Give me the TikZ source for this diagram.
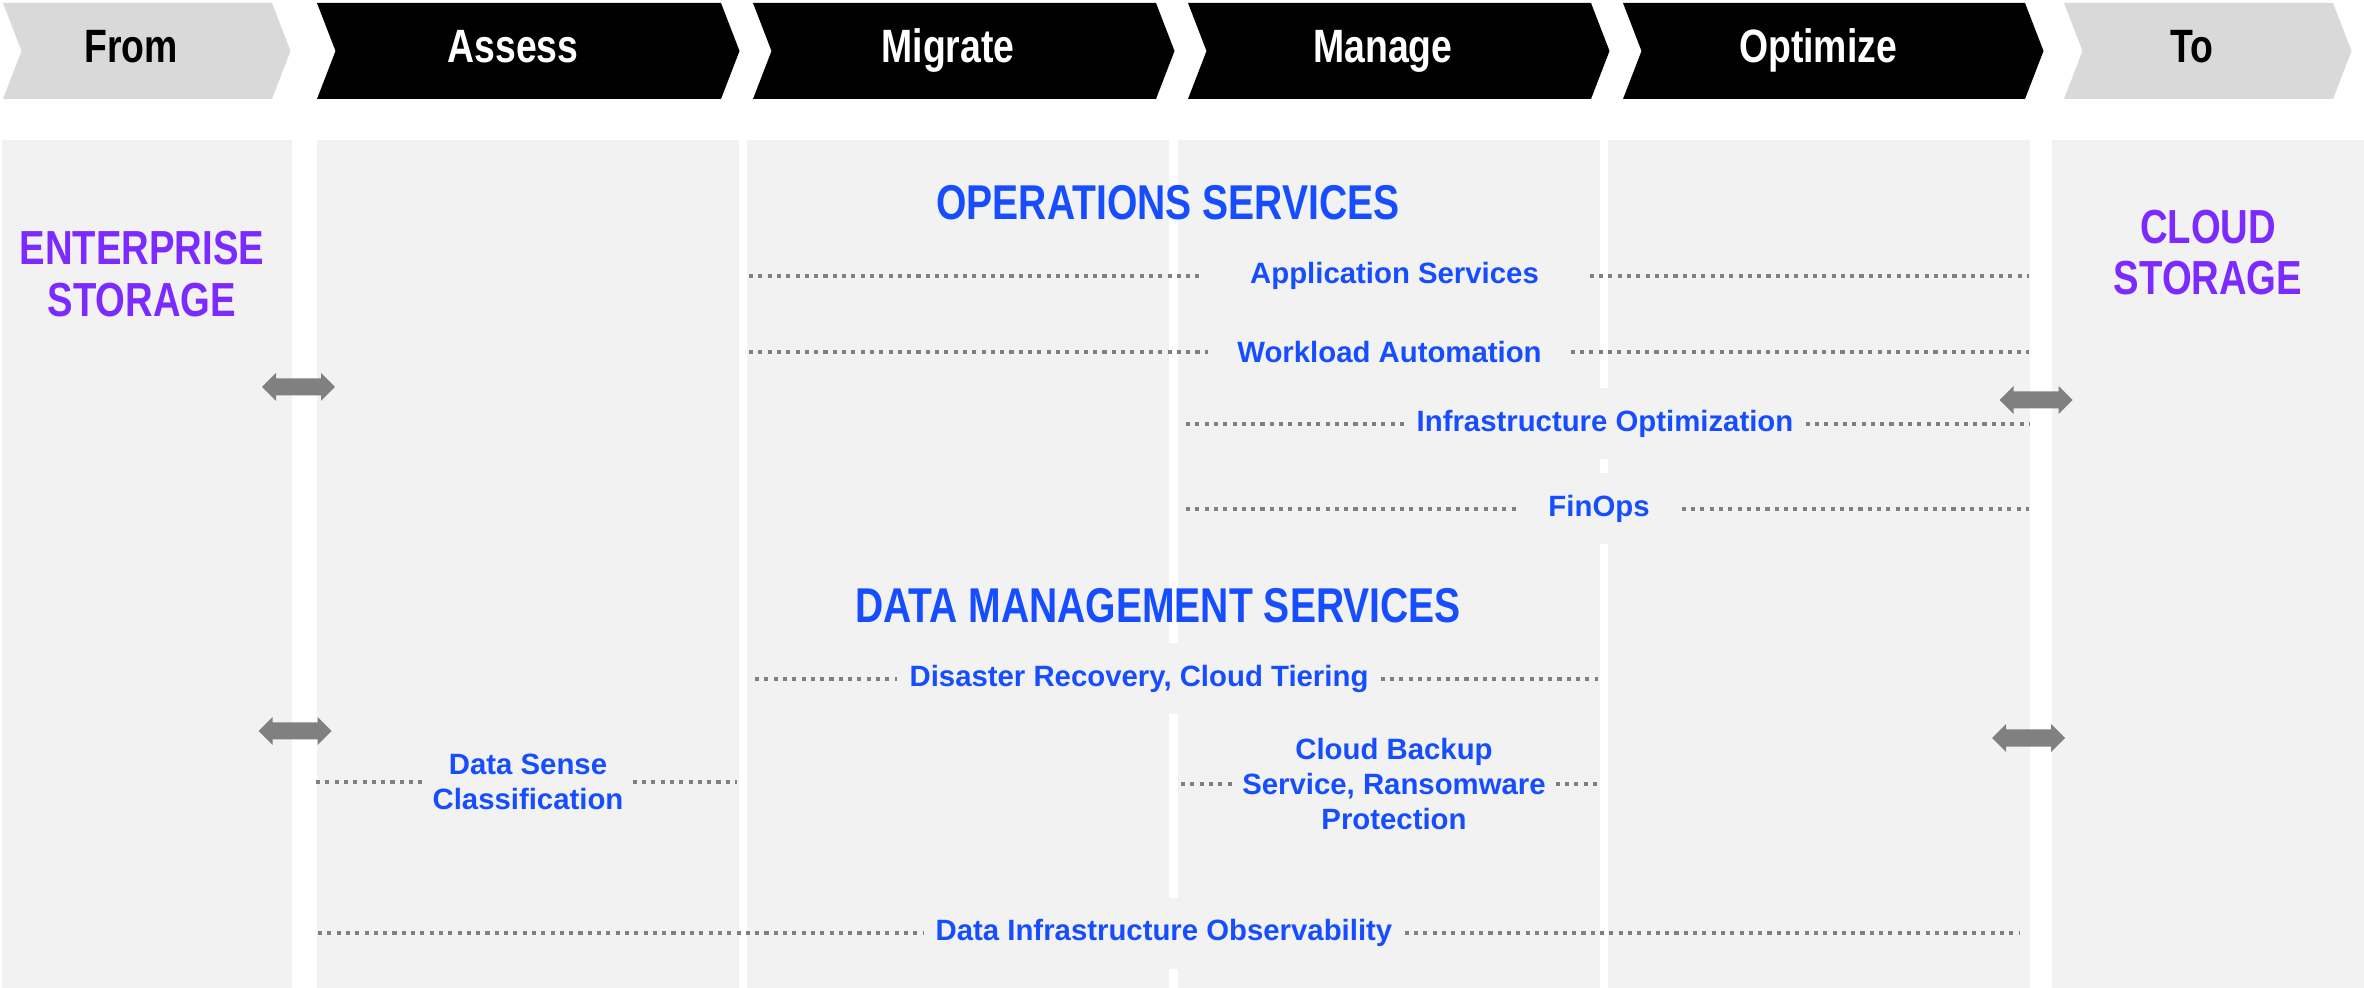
\documentclass[tikz,border=0pt]{standalone}
\usepackage{fontspec}
\setmainfont{Liberation Sans}
\newfontfamily\condfont[FakeStretch=0.8]{Liberation Sans}

\definecolor{panelgray}{HTML}{F2F2F2}
\definecolor{chevgray}{HTML}{D9D9D9}
\definecolor{arrowgray}{HTML}{808080}
\definecolor{svcblue}{RGB}{22,77,255}
\definecolor{storepurple}{RGB}{124,42,255}

\tikzset{
  svc/.style={fill=panelgray, text=svcblue, inner sep=0pt, minimum height=0.71cm,
    align=center, font=\bfseries\fontsize{8.35}{10}\selectfont},
  sechead/.style={text=svcblue, inner sep=0pt, font=\condfont\bfseries\fontsize{13.9}{16}\selectfont},
  store/.style={text=storepurple, inner sep=0pt, align=center,
    font=\condfont\bfseries\fontsize{13.6}{14.6}\selectfont},
  phase/.style={inner sep=0pt, anchor=base, font=\condfont\bfseries\fontsize{13.3}{16}\selectfont},
  dotline/.style={arrowgray, line width=0.045cm, dash pattern=on 0.041cm off 0.052cm},
}

\begin{document}
\begin{tikzpicture}
  % Canvas
  \fill[white] (0,0) rectangle (23.64,-9.88);
  \useasboundingbox (0,0) rectangle (23.64,-9.88);

  % Column panels
  \foreach \l/\r in {0.02/2.92, 3.17/7.39, 7.47/11.69, 11.78/16.00, 16.08/20.30, 20.52/23.64} {
    \fill[panelgray] (\l,-1.40) rectangle (\r,-9.88);
  }

  % Phase chevrons
  \foreach \name/\l/\r/\lx/\fc/\tc/\txt in {
      from/0.03/2.72/1.31/chevgray/black/From,
      assess/3.17/7.21/5.13/black/white/Assess,
      migrate/7.53/11.56/9.48/black/white/Migrate,
      manage/11.88/15.91/13.83/black/white/Manage,
      optimize/16.23/20.25/18.18/black/white/Optimize,
      to/20.64/23.33/21.92/chevgray/black/To
  } {
    \fill[\fc] (\l,-0.03) -- (\r,-0.03) -- (\r+0.185,-0.51) -- (\r,-0.99)
      -- (\l,-0.99) -- (\l+0.185,-0.51) -- cycle;
    \node[phase, text=\tc] (\name) at (\lx,-0.63) {\txt};
  }

  % Storage ends
  \node[store] (source) at (1.42,-2.74) {ENTERPRISE\\STORAGE};
  \node[store] (target) at (22.08,-2.525) {CLOUD\\STORAGE};

  % Section headings
  \node[sechead] (ops) at (11.68,-2.025) {OPERATIONS SERVICES};
  \node[sechead] (dms) at (11.58,-6.06) {DATA MANAGEMENT SERVICES};

  % Operations services
  \node[svc, minimum width=3.89cm] (app) at (13.945,-2.76) {Application Services};
  \node[svc, minimum width=3.61cm] (work) at (13.895,-3.52) {Workload Automation};
  \node[svc, minimum width=4.00cm] (infra) at (16.05,-4.24) {Infrastructure Optimization};
  \node[svc, minimum width=1.64cm] (fin) at (15.99,-5.09) {FinOps};

  % Data management services
  \node[svc, minimum width=4.82cm] (dr) at (11.39,-6.79) {Disaster Recovery, Cloud Tiering};
  \node[svc, minimum width=2.08cm] (sense) at (5.28,-7.82) {Data Sense\\Classification};
  \node[svc, minimum width=3.22cm] (backup) at (13.94,-7.84) {Cloud Backup\\Service, Ransomware\\Protection};
  \node[svc, minimum width=4.80cm] (obs) at (11.64,-9.33) {Data Infrastructure Observability};

  % Dotted spans
  \foreach \n/\a/\b in {app/7.49/20.29, work/7.49/20.29, infra/11.86/20.29, fin/11.86/20.29,
      dr/7.55/15.98, sense/3.16/7.37, backup/11.81/16.02, obs/3.18/20.19} {
    \coordinate (\n-in) at (\a,0 |- \n.west);
    \coordinate (\n-out) at (\b,0 |- \n.east);
    \draw[dotline] (\n-in) -- (\n.west);
    \draw[dotline] (\n.east) -- (\n-out);
  }

  % Transfer arrows
  \foreach \cx/\cy in {2.985/-3.87, 2.95/-7.31, 20.36/-4.00, 20.285/-7.38} {
    \fill[arrowgray, shift={(\cx,\cy)}] (-0.365,0) -- (-0.225,0.14) -- (-0.225,0.085)
      -- (0.225,0.085) -- (0.225,0.14) -- (0.365,0) -- (0.225,-0.14) -- (0.225,-0.085)
      -- (-0.225,-0.085) -- (-0.225,-0.14) -- cycle;
  }
\end{tikzpicture}
\end{document}
